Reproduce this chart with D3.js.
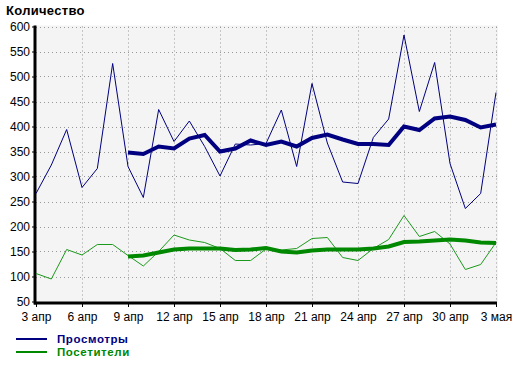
<!DOCTYPE html>
<html>
<head>
<meta charset="utf-8">
<script src="https://cdn.jsdelivr.net/npm/d3@7"></script>
<style>
  body { margin: 0; background: #fff; }
  svg { display: block; font-family: Arial, "Liberation Sans", sans-serif; }
</style>
</head>
<body>
<div id="chart"></div>
<script>
// Data: one value per day, 3 апр .. 3 мая
const startDay = new Date(2024, 3, 3);
const views = [266, 323, 394, 278, 316, 526, 320, 258, 434, 370, 411, 360, 301, 365, 363, 366,
               433, 320, 486, 367, 289, 286, 378, 415, 583, 430, 528, 326, 236, 266, 468];
const visitors = [106, 95, 154, 143, 164, 164, 142, 121, 150, 183, 173, 168, 156, 132, 132, 155,
                  153, 156, 176, 178, 138, 132, 156, 174, 222, 180, 190, 165, 114, 124, 168];
// smoothed lines start on day 7 (9 апр)
const avgStart = 6;
const viewsAvg = [348, 345, 360, 356, 376, 383, 350, 356, 372, 363, 370, 360, 377, 384, 374, 365,
                  365, 363, 400, 393, 416, 420, 413, 398, 404];
const visitorsAvg = [140, 142, 148, 154, 156, 156, 156, 153, 154, 157, 150, 148, 152, 154, 154, 154,
                     156, 160, 169, 170, 172, 174, 172, 168, 167];
const xTickLabels = ['3 апр', '6 апр', '9 апр', '12 апр', '15 апр', '18 апр', '21 апр', '24 апр', '27 апр', '30 апр', '3 мая'];
const yTicks = [50, 100, 150, 200, 250, 300, 350, 400, 450, 500, 550, 600];
const legendItems = [
    { name: 'Просмотры', color: '#000080' },
    { name: 'Посетители', color: '#008800' }
];

const W = 513, H = 368;
const plotLeft = 36, plotRight = 496, plotTop = 26.5, plotBottom = 301.5;

const svg = d3.select('#chart').append('svg')
    .attr('width', W)
    .attr('height', H);

const x = d3.scaleTime()
    .domain([startDay, d3.timeDay.offset(startDay, views.length - 1)])
    .range([plotLeft, plotRight]);
const y = d3.scaleLinear().domain([50, 600]).range([plotBottom, plotTop]);

const dayOf = i => d3.timeDay.offset(startDay, i);
const xTicks = xTickLabels.map((_, k) => dayOf(k * 3));

// plot background
svg.append('rect')
    .attr('x', plotLeft).attr('y', plotTop - 1)
    .attr('width', plotRight - plotLeft + 2).attr('height', plotBottom - plotTop + 2)
    .attr('fill', '#f4f4f4');

// grid
svg.append('g').selectAll('line')
    .data(yTicks.slice(1))
    .enter().append('line')
    .attr('x1', plotLeft).attr('x2', plotRight + 1)
    .attr('y1', d => Math.round(y(d)) + 0.5).attr('y2', d => Math.round(y(d)) + 0.5)
    .attr('stroke', '#999').attr('stroke-dasharray', '1,3');
svg.append('g').selectAll('line')
    .data(xTicks.slice(1))
    .enter().append('line')
    .attr('x1', d => Math.round(x(d)) + 0.5).attr('x2', d => Math.round(x(d)) + 0.5)
    .attr('y1', plotTop).attr('y2', plotBottom)
    .attr('stroke', '#999').attr('stroke-dasharray', '1,3');

// axes
const yAxis = svg.append('g')
    .attr('transform', `translate(${plotLeft - 1},0)`)
    .call(d3.axisLeft(y).tickValues(yTicks).tickSize(3).tickPadding(2));
const xAxis = svg.append('g')
    .attr('transform', `translate(0,${plotBottom + 1.5})`)
    .call(d3.axisBottom(x).tickValues(xTicks).tickSize(4).tickPadding(5)
        .tickFormat((d, i) => xTickLabels[i]));
[yAxis, xAxis].forEach(g => {
    g.select('.domain').remove();
    g.selectAll('text').attr('font-size', 12).attr('fill', '#000')
        .attr('font-family', 'Arial, "Liberation Sans", sans-serif');
    g.selectAll('line').attr('stroke', '#000');
});
svg.append('line')
    .attr('x1', plotLeft - 1).attr('x2', plotLeft - 1)
    .attr('y1', plotTop - 1).attr('y2', plotBottom + 3)
    .attr('stroke', '#000').attr('stroke-width', 3);
svg.append('line')
    .attr('x1', plotLeft - 2).attr('x2', plotRight + 1)
    .attr('y1', plotBottom + 1.5).attr('y2', plotBottom + 1.5)
    .attr('stroke', '#000').attr('stroke-width', 3);

// lines
const line = d3.line()
    .x(d => x(d.day))
    .y(d => y(d.v));
const toPts = (arr, off) => arr.map((v, i) => ({ day: dayOf(i + off), v }));

svg.append('path').datum(toPts(visitors, 0))
    .attr('d', line).attr('fill', 'none')
    .attr('stroke', '#1a9a1a').attr('stroke-width', 1);
svg.append('path').datum(toPts(visitorsAvg, avgStart))
    .attr('d', line).attr('fill', 'none')
    .attr('stroke', '#008800').attr('stroke-width', 4);
svg.append('path').datum(toPts(views, 0))
    .attr('d', line).attr('fill', 'none')
    .attr('stroke', '#000080').attr('stroke-width', 1);
svg.append('path').datum(toPts(viewsAvg, avgStart))
    .attr('d', line).attr('fill', 'none')
    .attr('stroke', '#000080').attr('stroke-width', 4);

// title
svg.append('text')
    .attr('x', 6).attr('y', 15)
    .attr('font-size', 13).attr('font-weight', 'bold')
    .attr('letter-spacing', 0.3)
    .text('Количество');

// legend
const legend = svg.append('g').selectAll('g')
    .data(legendItems)
    .enter().append('g')
    .attr('transform', (d, i) => `translate(16,${339 + i * 13})`);
legend.append('line')
    .attr('x1', 0).attr('x2', 31)
    .attr('stroke', d => d.color).attr('stroke-width', 2);
legend.append('text')
    .attr('x', 41).attr('y', 3.5)
    .attr('font-size', 11.5).attr('font-weight', 'bold')
    .attr('letter-spacing', 0.6)
    .attr('fill', d => d.color)
    .text(d => d.name);
</script>
</body>
</html>
